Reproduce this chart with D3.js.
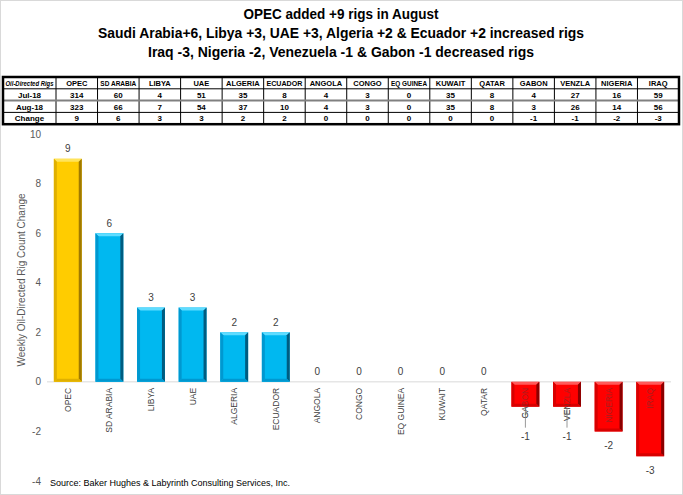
<!DOCTYPE html>
<html>
<head>
<meta charset="utf-8">
<script src="https://cdn.jsdelivr.net/npm/d3@7"></script>
<style>
  body { margin: 0; background: #fff; }
  svg { display: block; font-family: "Liberation Sans", Arial, sans-serif; }
</style>
</head>
<body>
<div id="chart"></div>
<script>
var svgWidth = 683;
var svgHeight = 495;

// data
var categories = ["OPEC", "SD ARABIA", "LIBYA", "UAE", "ALGERIA", "ECUADOR", "ANGOLA", "CONGO",
  "EQ GUINEA", "KUWAIT", "QATAR", "GABON", "VENZLA", "NIGERIA", "IRAQ"];
var jul18 = [314, 60, 4, 51, 35, 8, 4, 3, 0, 35, 8, 4, 27, 16, 59];
var aug18 = [323, 66, 7, 54, 37, 10, 4, 3, 0, 35, 8, 3, 26, 14, 56];
var change = [9, 6, 3, 3, 2, 2, 0, 0, 0, 0, 0, -1, -1, -2, -3];
var yTicks = [-4, -2, 0, 2, 4, 6, 8, 10];
var titleLines = [
  "OPEC added +9 rigs in August",
  "Saudi Arabia+6, Libya +3, UAE +3, Algeria +2 & Ecuador +2 increased rigs",
  "Iraq -3, Nigeria -2, Venezuela -1 & Gabon -1 decreased rigs"
];
var rowNames = ["Jul-18", "Aug-18", "Change"];

var svg = d3.select("#chart")
  .append("svg")
  .attr("width", svgWidth)
  .attr("height", svgHeight);

// outer frame
svg.append("rect")
  .attr("x", 0.5).attr("y", 0.5)
  .attr("width", svgWidth - 1).attr("height", svgHeight - 1)
  .attr("fill", "none").attr("stroke", "#d9d9d9");

// titles
var titleWidths = [195, 486, 386];
var titleY = [19, 38, 57];
svg.selectAll(".title")
  .data(titleLines)
  .enter()
  .append("text")
  .attr("class", "title")
  .attr("x", 341)
  .attr("y", (d, i) => titleY[i])
  .attr("text-anchor", "middle")
  .attr("font-size", 15)
  .attr("font-weight", "bold")
  .attr("textLength", (d, i) => titleWidths[i])
  .attr("lengthAdjust", "spacingAndGlyphs")
  .text(d => d);

// ---------- table ----------
var tableTop = 77;
var rowH = 11.8;
var tableLeft = 3;
var firstColRight = 56;
var tableRight = 679;

var colScale = d3.scaleBand()
  .domain(categories)
  .range([firstColRight, tableRight]);

var table = svg.append("g");
var rows = [jul18, aug18, change];

// squeeze text that is too wide for its cell
function fitText(sel, maxW) {
  sel.each(function () {
    var len = this.getComputedTextLength();
    if (len > maxW) {
      d3.select(this).attr("textLength", maxW).attr("lengthAdjust", "spacingAndGlyphs");
    }
  });
}

// header row
table.append("text")
  .attr("x", (tableLeft + firstColRight) / 2)
  .attr("y", tableTop + rowH / 2 + 3)
  .attr("text-anchor", "middle")
  .attr("font-size", 7.5)
  .attr("font-weight", "bold")
  .attr("font-style", "italic")
  .text("Oil-Directed Rigs")
  .call(fitText, 48);

table.selectAll(".hdr")
  .data(categories)
  .enter()
  .append("text")
  .attr("x", d => colScale(d) + colScale.bandwidth() / 2)
  .attr("y", tableTop + rowH / 2 + 3)
  .attr("text-anchor", "middle")
  .attr("font-size", 7.5)
  .attr("font-weight", "bold")
  .text(d => d)
  .call(fitText, 36);

rows.forEach(function (vals, r) {
  var yMid = tableTop + rowH * (r + 1) + rowH / 2 + 3;
  table.append("text")
    .attr("x", (tableLeft + firstColRight) / 2)
    .attr("y", yMid)
    .attr("text-anchor", "middle")
    .attr("font-size", 8)
    .attr("font-weight", "bold")
    .text(rowNames[r]);
  table.selectAll(".row" + r)
    .data(vals)
    .enter()
    .append("text")
    .attr("x", (d, i) => colScale(categories[i]) + colScale.bandwidth() / 2)
    .attr("y", yMid)
    .attr("text-anchor", "middle")
    .attr("font-size", 8)
    .attr("font-weight", "bold")
    .text(d => d);
});

// grid lines of the table
var tableBottom = tableTop + rowH * 4;
[firstColRight].concat(categories.slice(1).map(c => colScale(c))).forEach(function (x) {
  table.append("line")
    .attr("x1", x).attr("x2", x)
    .attr("y1", tableTop).attr("y2", tableBottom)
    .attr("stroke", "#000").attr("stroke-width", 1);
});
[1, 2, 3].forEach(function (r) {
  table.append("line")
    .attr("x1", tableLeft).attr("x2", tableRight)
    .attr("y1", tableTop + rowH * r).attr("y2", tableTop + rowH * r)
    .attr("stroke", r === 2 ? "#808080" : "#000")
    .attr("stroke-width", r === 2 ? 2 : 1);
});
table.append("rect")
  .attr("x", tableLeft).attr("y", tableTop)
  .attr("width", tableRight - tableLeft).attr("height", tableBottom - tableTop)
  .attr("fill", "none").attr("stroke", "#000").attr("stroke-width", 2.5);

// ---------- bar chart ----------
var x = d3.scaleBand()
  .domain(categories)
  .range([47, 671])
  .paddingInner(0.33)
  .paddingOuter(0.165);

var y = d3.scaleLinear()
  .domain([-4, 10])
  .range([481, 134]);

var chart = svg.append("g");

// y tick labels
chart.selectAll(".ytick")
  .data(yTicks)
  .enter()
  .append("text")
  .attr("x", 41)
  .attr("y", d => y(d) + 3.5)
  .attr("text-anchor", "end")
  .attr("font-size", 10)
  .attr("fill", "#595959")
  .text(d => d);

// y axis title
chart.append("text")
  .attr("transform", "translate(25, 280) rotate(-90)")
  .attr("text-anchor", "middle")
  .attr("font-size", 10)
  .attr("fill", "#595959")
  .text("Weekly Oil-Directed Rig Count Change");

// zero line
chart.append("line")
  .attr("x1", 47).attr("x2", 671)
  .attr("y1", y(0)).attr("y2", y(0))
  .attr("stroke", "#d9d9d9");

function barColor(i) {
  if (i === 0) return { base: "#FFCC00", light: "#FFE45C", dark: "#A07A00", side: "#E0B000" };
  if (change[i] > 0) return { base: "#00B8F0", light: "#5FDCFF", dark: "#005C80", side: "#0098D0" };
  return { base: "#FF0000", light: "#FF5A5A", dark: "#8A0000", side: "#D80000" };
}

// category labels first (the ones under negative bars show through faintly)
chart.selectAll(".cat")
  .data(categories)
  .enter()
  .append("text")
  .attr("transform", d => `translate(${x(d) + x.bandwidth() / 2 + 3}, ${y(0) + 6}) rotate(-90)`)
  .attr("text-anchor", "end")
  .attr("font-size", 8.5)
  .attr("fill", "#404040")
  .text(d => d);

// bars with a bevel look
var bars = chart.selectAll(".bar")
  .data(change.map((v, i) => ({ name: categories[i], value: v, i: i })).filter(d => d.value !== 0))
  .enter()
  .append("g")
  .attr("class", "bar");

bars.each(function (d) {
  var g = d3.select(this);
  var c = barColor(d.i);
  var x0 = x(d.name);
  var w = x.bandwidth();
  var top = y(Math.max(0, d.value));
  var h = Math.abs(y(d.value) - y(0));
  var b = 3;
  g.append("rect").attr("x", x0).attr("y", top).attr("width", w).attr("height", h).attr("fill", c.base);
  // top bevel
  g.append("path")
    .attr("d", `M${x0},${top} L${x0 + w},${top} L${x0 + w - b},${top + b} L${x0 + b},${top + b} Z`)
    .attr("fill", c.light);
  // left bevel
  g.append("path")
    .attr("d", `M${x0},${top} L${x0 + b},${top + b} L${x0 + b},${top + h - b} L${x0},${top + h} Z`)
    .attr("fill", c.side);
  // right bevel
  g.append("path")
    .attr("d", `M${x0 + w},${top} L${x0 + w},${top + h} L${x0 + w - b},${top + h - b} L${x0 + w - b},${top + b} Z`)
    .attr("fill", c.dark);
  // bottom bevel
  g.append("path")
    .attr("d", `M${x0},${top + h} L${x0 + w},${top + h} L${x0 + w - b},${top + h - b} L${x0 + b},${top + h - b} Z`)
    .attr("fill", c.side);
});

// category labels over negative bars, faint
chart.selectAll(".catneg")
  .data(categories.filter((c, i) => change[i] < 0))
  .enter()
  .append("text")
  .attr("transform", d => `translate(${x(d) + x.bandwidth() / 2 + 3}, ${y(0) + 6}) rotate(-90)`)
  .attr("text-anchor", "end")
  .attr("font-size", 8.5)
  .attr("fill", "#404040")
  .attr("opacity", 0.45)
  .text(d => d);

// value labels
chart.selectAll(".val")
  .data(change)
  .enter()
  .append("text")
  .attr("x", (d, i) => x(categories[i]) + x.bandwidth() / 2)
  .attr("y", function (d) {
    if (d >= 0) return y(d) - 6.5;
    return y(d) + (d === -1 ? 33.5 : 17.5);
  })
  .attr("text-anchor", "middle")
  .attr("font-size", 10)
  .attr("fill", "#404040")
  .text(d => d);

// leader lines for the -1 labels
chart.selectAll(".leader")
  .data(categories.filter((c, i) => change[i] === -1))
  .enter()
  .append("line")
  .attr("x1", d => x(d) + x.bandwidth() / 2)
  .attr("x2", d => x(d) + x.bandwidth() / 2)
  .attr("y1", y(-1) + 1)
  .attr("y2", y(-1) + 21)
  .attr("stroke", "#7f7f7f")
  .attr("stroke-width", 0.8);

// source note
svg.append("text")
  .attr("x", 50)
  .attr("y", 486)
  .attr("font-size", 9.5)
  .attr("fill", "#000")
  .attr("textLength", 240)
  .attr("lengthAdjust", "spacingAndGlyphs")
  .text("Source: Baker Hughes & Labyrinth Consulting Services, Inc.");
</script>
</body>
</html>
